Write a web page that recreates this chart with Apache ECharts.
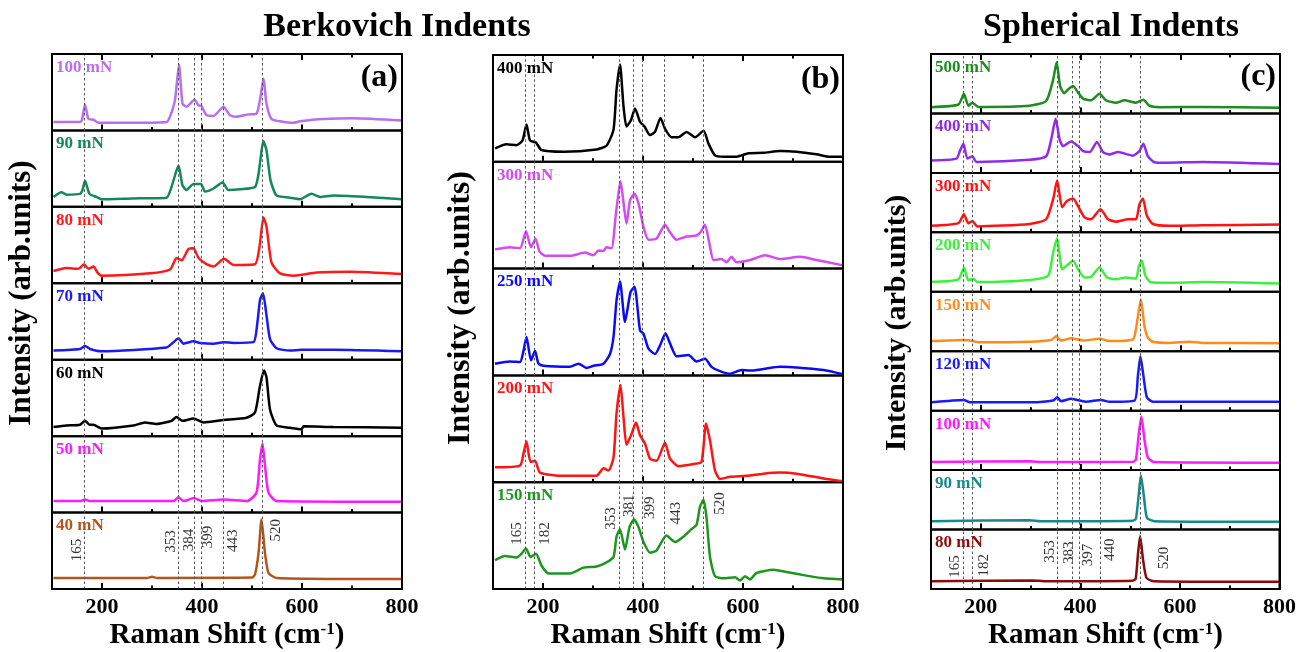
<!DOCTYPE html>
<html lang="en">
<head>
<meta charset="UTF-8">
<title>Raman spectra of indents</title>
<script src="https://cdn.jsdelivr.net/npm/echarts@6/dist/echarts.min.js"></script>
<style>
html, body { margin: 0; padding: 0; background: #fff; overflow: hidden; }
#chart { width: 1299px; height: 652px; }
</style>
</head>
<body>
<div id="chart"></div>
<script>
// ---- spectra: [Raman shift, relative intensity in its own strip] ----

// (a) Berkovich, 40 - 100 mN
var a100 = [[103,0.11],[156,0.11],[160,0.14],[166,0.34],[173,0.15],[183,0.14],[193,0.10],[260,0.10],[329,0.11],[336,0.18],[346,0.40],[354,0.86],[361,0.35],[369,0.31],[385,0.40],[393,0.33],[399,0.32],[409,0.20],[423,0.19],[443,0.31],[456,0.20],[469,0.18],[493,0.21],[509,0.22],[517,0.44],[523,0.68],[529,0.35],[539,0.15],[556,0.12],[583,0.10],[596,0.12],[643,0.15],[703,0.16],[800,0.13]];
var a90 = [[103,0.13],[119,0.19],[129,0.16],[156,0.17],[161,0.22],[166,0.34],[175,0.17],[189,0.13],[199,0.10],[260,0.11],[329,0.12],[339,0.26],[353,0.54],[361,0.28],[369,0.22],[383,0.30],[398,0.30],[406,0.20],[423,0.24],[441,0.32],[453,0.22],[476,0.23],[506,0.26],[513,0.43],[523,0.86],[529,0.74],[537,0.35],[549,0.15],[576,0.12],[596,0.10],[619,0.17],[636,0.13],[663,0.15],[729,0.13],[800,0.10]];
var a80 = [[103,0.16],[129,0.20],[153,0.19],[164,0.25],[173,0.19],[183,0.22],[191,0.14],[199,0.10],[296,0.13],[336,0.18],[349,0.33],[359,0.30],[373,0.45],[383,0.46],[393,0.33],[409,0.25],[423,0.22],[444,0.32],[463,0.24],[506,0.25],[515,0.48],[523,0.86],[529,0.74],[539,0.27],[556,0.13],[583,0.10],[629,0.14],[696,0.15],[800,0.12]];
var a70 = [[103,0.12],[156,0.14],[166,0.18],[176,0.14],[199,0.11],[329,0.16],[343,0.23],[353,0.28],[363,0.21],[383,0.24],[396,0.22],[423,0.21],[443,0.23],[463,0.22],[503,0.23],[511,0.50],[516,0.78],[522,0.87],[529,0.58],[536,0.27],[549,0.15],[576,0.12],[599,0.13],[663,0.13],[800,0.11]];
var a60 = [[103,0.12],[129,0.14],[156,0.15],[166,0.20],[175,0.15],[183,0.15],[199,0.10],[263,0.14],[286,0.18],[309,0.16],[339,0.20],[349,0.25],[361,0.20],[383,0.23],[403,0.18],[443,0.21],[489,0.24],[506,0.31],[516,0.66],[524,0.86],[529,0.77],[536,0.35],[549,0.14],[576,0.11],[599,0.09],[603,0.13],[663,0.12],[800,0.11]];
var a50 = [[103,0.15],[156,0.15],[166,0.17],[176,0.15],[300,0.15],[343,0.15],[353,0.20],[363,0.15],[384,0.19],[400,0.15],[443,0.17],[490,0.15],[509,0.26],[516,0.70],[521,0.90],[526,0.61],[533,0.26],[549,0.15],[800,0.14]];
var a40 = [[103,0.145],[290,0.145],[300,0.16],[310,0.145],[500,0.15],[506,0.19],[513,0.47],[519,0.91],[526,0.47],[533,0.21],[549,0.145],[800,0.13]];

// (b) Berkovich, 150 - 400 mN
var b400 = [[104,0.125],[127,0.165],[147,0.156],[159,0.20],[167,0.35],[174,0.20],[186,0.18],[197,0.11],[241,0.094],[307,0.116],[327,0.15],[341,0.30],[347,0.67],[354,0.91],[361,0.52],[367,0.33],[376,0.39],[384,0.50],[394,0.375],[403,0.33],[414,0.25],[424,0.28],[435,0.41],[444,0.31],[457,0.23],[471,0.23],[487,0.28],[504,0.23],[521,0.29],[531,0.17],[544,0.06],[561,0.047],[587,0.047],[597,0.06],[611,0.08],[641,0.084],[674,0.10],[707,0.094],[747,0.07],[774,0.047],[800,0.047]];
var b300 = [[104,0.18],[134,0.20],[154,0.19],[166,0.35],[176,0.20],[185,0.28],[193,0.16],[204,0.12],[254,0.12],[284,0.15],[301,0.125],[311,0.17],[321,0.165],[327,0.20],[337,0.19],[346,0.52],[355,0.82],[362,0.58],[367,0.42],[374,0.64],[383,0.70],[391,0.61],[401,0.39],[411,0.27],[427,0.28],[444,0.41],[454,0.34],[467,0.27],[487,0.30],[507,0.31],[515,0.34],[524,0.41],[533,0.23],[541,0.08],[557,0.09],[567,0.06],[577,0.11],[587,0.06],[614,0.08],[644,0.125],[674,0.09],[714,0.11],[747,0.08],[800,0.03]];
var b250 = [[104,0.11],[134,0.13],[154,0.125],[161,0.23],[167,0.36],[176,0.14],[184,0.23],[191,0.11],[201,0.09],[254,0.08],[271,0.11],[287,0.07],[301,0.09],[321,0.11],[334,0.20],[341,0.36],[347,0.70],[354,0.88],[364,0.50],[375,0.78],[383,0.83],[394,0.42],[401,0.39],[411,0.25],[424,0.20],[434,0.28],[445,0.395],[454,0.30],[467,0.18],[491,0.19],[507,0.13],[524,0.155],[537,0.08],[554,0.04],[574,0.015],[597,0.05],[614,0.045],[641,0.06],[674,0.08],[707,0.075],[761,0.05],[800,0.01]];
var b200 = [[104,0.14],[154,0.156],[161,0.27],[167,0.38],[175,0.19],[184,0.20],[194,0.09],[241,0.06],[307,0.06],[321,0.13],[331,0.11],[341,0.23],[347,0.64],[355,0.91],[361,0.61],[367,0.35],[377,0.45],[386,0.56],[394,0.44],[404,0.36],[414,0.22],[427,0.20],[444,0.37],[454,0.22],[471,0.15],[501,0.17],[517,0.19],[526,0.55],[534,0.39],[544,0.11],[554,0.03],[574,0.05],[607,0.06],[641,0.08],[674,0.09],[707,0.08],[767,0.03],[800,0.01]];
var b150 = [[104,0.27],[124,0.31],[147,0.295],[157,0.33],[166,0.38],[175,0.30],[186,0.33],[197,0.22],[211,0.146],[254,0.146],[281,0.20],[307,0.21],[327,0.25],[341,0.30],[347,0.49],[354,0.56],[364,0.37],[373,0.58],[382,0.65],[391,0.58],[401,0.44],[414,0.34],[427,0.36],[447,0.50],[464,0.44],[481,0.49],[497,0.56],[507,0.60],[514,0.77],[521,0.835],[527,0.67],[534,0.30],[544,0.12],[561,0.10],[584,0.11],[594,0.08],[604,0.12],[614,0.09],[627,0.15],[661,0.18],[687,0.16],[721,0.13],[761,0.10],[800,0.09]];

// (c) Spherical, 80 - 500 mN
var c500 = [[101,0.106],[155,0.15],[166,0.33],[175,0.13],[183,0.18],[195,0.11],[298,0.13],[331,0.21],[345,0.57],[352,0.86],[359,0.46],[367,0.34],[376,0.41],[385,0.46],[395,0.35],[405,0.25],[421,0.22],[438,0.33],[451,0.22],[471,0.18],[488,0.22],[511,0.18],[526,0.23],[538,0.13],[558,0.106],[645,0.11],[800,0.095]];
var c400 = [[101,0.21],[151,0.24],[158,0.37],[165,0.49],[173,0.24],[183,0.28],[191,0.185],[298,0.22],[331,0.28],[341,0.56],[350,0.91],[358,0.56],[365,0.45],[381,0.53],[395,0.45],[405,0.365],[418,0.35],[433,0.52],[445,0.35],[458,0.31],[475,0.35],[505,0.29],[518,0.365],[526,0.49],[535,0.28],[548,0.18],[571,0.17],[645,0.185],[800,0.15]];
var c300 = [[101,0.11],[155,0.155],[166,0.305],[175,0.15],[183,0.19],[193,0.10],[298,0.14],[331,0.22],[345,0.56],[353,0.87],[363,0.42],[373,0.53],[385,0.57],[395,0.44],[408,0.25],[421,0.22],[440,0.39],[455,0.22],[471,0.18],[495,0.22],[511,0.22],[518,0.47],[525,0.57],[533,0.28],[545,0.14],[578,0.11],[645,0.12],[800,0.13]];
var c200 = [[101,0.17],[155,0.21],[166,0.41],[175,0.19],[185,0.22],[193,0.165],[298,0.20],[335,0.27],[345,0.66],[353,0.90],[363,0.38],[375,0.46],[385,0.52],[395,0.38],[408,0.24],[421,0.25],[438,0.41],[453,0.24],[471,0.21],[491,0.24],[511,0.22],[517,0.435],[523,0.52],[530,0.27],[541,0.16],[578,0.15],[645,0.165],[800,0.14]];
var c150 = [[101,0.17],[165,0.19],[178,0.18],[198,0.15],[298,0.16],[341,0.19],[351,0.25],[361,0.18],[381,0.22],[405,0.18],[438,0.21],[458,0.17],[505,0.20],[511,0.37],[517,0.70],[521,0.87],[528,0.43],[535,0.23],[545,0.16],[578,0.14],[618,0.16],[645,0.14],[800,0.135]];
var c120 = [[101,0.14],[166,0.18],[178,0.14],[300,0.14],[345,0.17],[353,0.225],[361,0.16],[381,0.20],[398,0.17],[411,0.15],[441,0.18],[458,0.15],[508,0.17],[515,0.59],[520,0.915],[526,0.59],[533,0.225],[545,0.15],[800,0.15]];
var c100 = [[101,0.135],[300,0.15],[320,0.135],[505,0.14],[511,0.18],[517,0.63],[522,0.90],[528,0.52],[535,0.21],[548,0.135],[800,0.124]];
var c90 = [[101,0.14],[298,0.157],[320,0.14],[505,0.15],[511,0.18],[517,0.62],[521,0.91],[527,0.56],[533,0.2],[548,0.14],[800,0.13]];
var c80 = [[101,0.13],[305,0.145],[330,0.13],[505,0.14],[511,0.17],[516,0.61],[520,0.89],[526,0.49],[533,0.185],[548,0.13],[800,0.12]];

// load labels, top strip first
var aLoads = ['100 mN', '90 mN', '80 mN', '70 mN', '60 mN', '50 mN', '40 mN'];
var bLoads = ['400 mN', '300 mN', '250 mN', '200 mN', '150 mN'];
var cLoads = ['500 mN', '400 mN', '300 mN', '200 mN', '150 mN', '120 mN', '100 mN', '90 mN', '80 mN'];

// reference peak positions (dotted lines + labels)
var aPeaks = [165, 353, 384, 399, 443, 520];
var bPeaks = [165, 182, 353, 381, 399, 443, 520];
var cPeaks = [165, 182, 353, 383, 397, 440, 520];

var xTickLabels = [200, 400, 600, 800];
var xMinorTicks = [300, 500, 700];

// ---- layout / style ----
var FONT = "'Liberation Serif', 'Times New Roman', serif";

var panels = [
    {
        left: 52, top: 54, width: 350, height: 535, letter: '(a)', letterX: 398, letterY: 78,
        data: [a100, a90, a80, a70, a60, a50, a40], loads: aLoads, peaks: aPeaks,
        colors: ['#B86EF0', '#13895A', '#FF1A1A', '#1A1AF5', '#000000', '#FF1AFF', '#B4561C'],
        // peak numbers in the bottom strip: [px shift from the line, height in strip]
        peakText: [[-7, 0.51], [-7, 0.62], [-5, 0.64], [7, 0.68], [10, 0.63], [14, 0.77]],
        yTitle: {x: 22, y: 293, size: 31}
    },
    {
        left: 493, top: 55, width: 350, height: 534, letter: '(b)', letterX: 840, letterY: 80,
        data: [b400, b300, b250, b200, b150], loads: bLoads, peaks: bPeaks,
        colors: ['#000000', '#D44CEF', '#0A0AF5', '#FF1414', '#1E961E'],
        peakText: [[-8, 0.52], [11, 0.52], [-8, 0.66], [-4, 0.78], [8, 0.76], [12, 0.71], [17, 0.80]],
        yTitle: {x: 461, y: 308, size: 32}
    },
    {
        left: 931, top: 54, width: 349, height: 535, letter: '(c)', letterX: 1276, letterY: 77,
        data: [c500, c400, c300, c200, c150, c120, c100, c90, c80], loads: cLoads, peaks: cPeaks,
        colors: ['#1E8C1E', '#8F2CEB', '#FF1414', '#3CF03C', '#FF8C1A', '#1A1AF5', '#FF1AFF', '#168A8A', '#8B0A0A'],
        peakText: [[-8, 0.38], [12, 0.40], [-7, 0.63], [-3, 0.61], [9, 0.57], [10, 0.66], [24, 0.52]],
        yTitle: {x: 897, y: 323, size: 30}
    }
];

var grids = [], xAxes = [], yAxes = [], series = [], graphics = [];

function tickAxis(gi, pos, custom, len, labels) {
    xAxes.push({
        gridIndex: gi, type: 'value', position: pos, min: 100, max: 800, interval: 100,
        axisLine: {show: false}, splitLine: {show: false},
        axisTick: {show: true, inside: true, length: len, customValues: custom,
            lineStyle: {color: '#000', width: 2}},
        axisLabel: {show: labels, customValues: xTickLabels, margin: 7,
            fontFamily: FONT, fontWeight: 'bold', fontSize: 22, color: '#000'}
    });
    return xAxes.length - 1;
}

panels.forEach(function (p) {
    var n = p.data.length;
    var h = p.height / n;
    for (var i = 0; i < n; i++) {
        var gi = grids.length;
        var top = p.top + i * h;
        var last = i === n - 1;
        grids.push({left: p.left, top: top, width: p.width, height: h, show: true,
            borderColor: '#000', borderWidth: 2, backgroundColor: 'transparent'});
        var xi = tickAxis(gi, 'bottom', xTickLabels, 6, last);
        tickAxis(gi, 'bottom', xMinorTicks, 3.5, false);
        if (i === 0) {
            tickAxis(gi, 'top', xTickLabels, 6, false);
            tickAxis(gi, 'top', xMinorTicks, 3.5, false);
        }
        yAxes.push({gridIndex: gi, type: 'value', min: 0, max: 1, show: false});

        series.push({
            type: 'line', name: p.loads[i], xAxisIndex: xi, yAxisIndex: gi,
            data: p.data[i], showSymbol: false, smooth: 0.2, z: 3,
            lineStyle: {color: p.colors[i], width: 2.5},
            markLine: {
                silent: true, symbol: ['none', 'none'], label: {show: false},
                lineStyle: {color: '#555', type: [2.5, 2.5], width: 1},
                data: p.peaks.map(function (v) { return {xAxis: v}; })
            }
        });

        graphics.push({
            type: 'text', x: p.left + 4, y: top + 5, z: 10,
            style: {text: p.loads[i], fill: p.colors[i], font: 'bold 17px ' + FONT}
        });

        if (last) {
            // label is rotated 90deg, so its local y offset is a sideways shift on screen
            series.push({
                type: 'scatter', xAxisIndex: xi, yAxisIndex: gi, symbolSize: 0, z: 4,
                data: p.peaks.map(function (v, k) {
                    return {value: [v, p.peakText[k][1], String(v)],
                        label: {offset: [0, p.peakText[k][0]]}};
                }),
                label: {
                    show: true, position: 'inside', rotate: 90, color: '#000',
                    fontFamily: FONT, fontSize: 15,
                    formatter: function (d) { return d.value[2]; }
                }
            });
        }
    }

    // outer frame of the panel
    graphics.push({
        type: 'rect', z: 20, silent: true,
        shape: {x: p.left, y: p.top, width: p.width, height: p.height},
        style: {fill: null, stroke: '#000', lineWidth: 2}
    });
    graphics.push({
        type: 'text', x: p.letterX, y: p.letterY, z: 10,
        style: {text: p.letter, fill: '#000', font: 'bold 32px ' + FONT,
            textAlign: 'right', textVerticalAlign: 'middle'}
    });
    graphics.push({
        type: 'text', x: p.yTitle.x, y: p.yTitle.y, rotation: Math.PI / 2, z: 10,
        style: {text: 'Intensity (arb.units)', fill: '#000',
            font: 'bold ' + p.yTitle.size + 'px ' + FONT,
            textAlign: 'center', textVerticalAlign: 'middle'}
    });
    graphics.push({
        type: 'text', x: p.left + p.width / 2, y: 636, z: 10,
        style: {
            text: '{n|Raman Shift (cm}{s|-1}{n|)}',
            textAlign: 'center', textVerticalAlign: 'middle',
            rich: {
                n: {fontFamily: FONT, fontWeight: 'bold', fontSize: 29, fill: '#000'},
                s: {fontFamily: FONT, fontWeight: 'bold', fontSize: 17, fill: '#000',
                    verticalAlign: 'top', padding: [0, 0, 12, 0]}
            }
        }
    });
});

graphics.push({
    type: 'text', x: 397, y: 27, z: 10,
    style: {text: 'Berkovich Indents', fill: '#000', font: 'bold 34px ' + FONT,
        textAlign: 'center', textVerticalAlign: 'middle'}
});
graphics.push({
    type: 'text', x: 1111, y: 27, z: 10,
    style: {text: 'Spherical Indents', fill: '#000', font: 'bold 34px ' + FONT,
        textAlign: 'center', textVerticalAlign: 'middle'}
});

var myChart = echarts.init(document.getElementById('chart'), null, {renderer: 'canvas'});
myChart.setOption({
    animation: false,
    backgroundColor: '#fff',
    grid: grids,
    xAxis: xAxes,
    yAxis: yAxes,
    series: series,
    graphic: graphics
});
</script>
</body>
</html>
